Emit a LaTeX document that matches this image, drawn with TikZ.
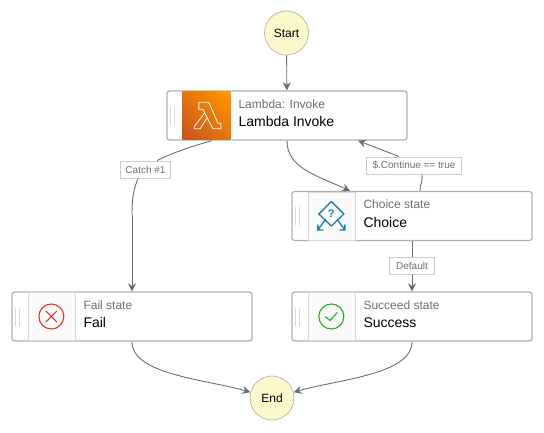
\documentclass[tikz,border=0pt]{standalone}
\usepackage{fontspec}
\setmainfont{Liberation Sans}
\usetikzlibrary{positioning,arrows.meta,shadings}
\definecolor{flowgrey}{HTML}{687078}
\definecolor{boxgrey}{HTML}{AAB3B8}
\definecolor{panelgrey}{HTML}{D5DBDB}
\definecolor{paneltint}{HTML}{FAFAFA}
\definecolor{labelgrey}{HTML}{C6D0D0}
\definecolor{titlegrey}{HTML}{687078}
\definecolor{startfill}{HTML}{FDF8CB}
\definecolor{startline}{HTML}{BDBDA8}
\definecolor{awsorange}{HTML}{FF9900}
\definecolor{awsrust}{HTML}{C8511B}
\definecolor{awsmid}{HTML}{E47511}
\definecolor{choiceblue}{HTML}{147EBA}
\definecolor{failred}{HTML}{DD3522}
\definecolor{okgreen}{HTML}{1FAE1F}
\tikzset{
flow/.style={draw=flowgrey,line width=0.9pt,-{Stealth[length=8pt,width=8pt]}},
flowend/.style={draw=flowgrey,line width=0.9pt},
terminal/.style={circle,draw=startline,fill=startfill,line width=0.8pt,
  minimum size=44pt,inner sep=0pt,font=\fontsize{12}{14}\selectfont},
statebox/.style={rectangle,draw=boxgrey,fill=white,line width=1.3pt,rounded corners=2.5pt,
  minimum width=240pt,minimum height=49pt,inner sep=0pt},
panel/.style={rectangle,draw=panelgrey,fill=paneltint,line width=0.7pt,
  minimum width=47pt,minimum height=48pt,inner sep=0pt},
titletext/.style={anchor=base west,inner sep=0pt,text=titlegrey,font=\fontsize{12}{14}\selectfont},
maintext/.style={anchor=base west,inner sep=0pt,text=black,font=\fontsize{14}{16}\selectfont},
edgelabel/.style={rectangle,draw=labelgrey,fill=white,line width=1pt,inner sep=0pt,
  minimum height=17pt,text=titlegrey,font=\fontsize{10}{12}\selectfont},
grip/.style={draw=panelgrey,line width=1.2pt}
}
\begin{document}
\begin{tikzpicture}[x=1pt,y=1pt]
\path[use as bounding box] (0,0) rectangle (544,-432);

\node[terminal] (start) at (286.5,-33) {Start};
\node[terminal] (end) at (272,-398) {End};

% states
\node[statebox] (lambda) at (287,-115.5) {};
\node[statebox] (choice) at (412,-216) {};
\node[statebox] (fail) at (132,-316.5) {};
\node[statebox] (success) at (412,-316.5) {};

% lambda
\begin{scope}
\coordinate (lambdapanel) at ([xshift=40pt]lambda.west);
\shade[lower left=awsrust,upper right=awsorange,upper left=awsmid,lower right=awsmid]
  ([shift={(-24pt,-24pt)}]lambdapanel) rectangle ([shift={(24pt,24pt)}]lambdapanel);
\draw[white,line width=0.8pt,line join=round,shift={(lambdapanel)}]
  (-7.5,13.2) -- (2.5,13.2) -- (11.5,-7.8) -- (14.5,-7.8) -- (14.5,-13.2) -- (6.5,-13.2)
  -- (-3.5,6.2) -- (-7.5,6.2) -- cycle
  (-1.8,2.5) -- (-12.2,-11.2) -- (-12.2,-13.2) -- (-6.2,-13.2) -- (0.8,-2.2);
\draw[grip] ([shift={(4.5pt,-9pt)}]lambda.west) -- ++(0,18pt);
\draw[grip] ([shift={(8pt,-9pt)}]lambda.west) -- ++(0,18pt);
\node[titletext] (lambdatitle) at ([shift={(72pt,7.5pt)}]lambda.west) {Lambda: Invoke};
\node[maintext] (lambdaname) at ([shift={(72pt,-11pt)}]lambda.west) {Lambda Invoke};
\end{scope}

% choice
\begin{scope}
\node[panel] (choicepanel) at ([xshift=40pt]choice.west) {};
\draw[choiceblue,line width=1.3pt,line join=round,shift={(choicepanel.center)}]
  (0,14.5) -- (12.5,2) -- (0,-10) -- (-12.5,2) -- cycle;
\draw[choiceblue,line width=1.3pt,shift={(choicepanel.center)}]
  (-6,-3.5) -- (-13.5,-14) (-13.5,-8.5) -- (-13.5,-14) -- (-8,-14)
  (6,-3.5) -- (13.5,-14) (13.5,-8.5) -- (13.5,-14) -- (8,-14);
\node[text=choiceblue,inner sep=0pt,font=\bfseries\fontsize{11}{12}\selectfont] (choicemark)
  at ([yshift=2.5pt]choicepanel.center) {?};
\draw[grip] ([shift={(4.5pt,-9pt)}]choice.west) -- ++(0,18pt);
\draw[grip] ([shift={(8pt,-9pt)}]choice.west) -- ++(0,18pt);
\node[titletext] (choicetitle) at ([shift={(72pt,7.5pt)}]choice.west) {Choice state};
\node[maintext] (choicename) at ([shift={(72pt,-11pt)}]choice.west) {Choice};
\end{scope}

% fail
\begin{scope}
\node[panel] (failpanel) at ([xshift=40pt]fail.west) {};
\node[circle,draw=failred,line width=1.1pt,minimum size=25pt,inner sep=0pt] (failmark)
  at (failpanel.center) {};
\draw[failred,line width=1.1pt] ([shift={(-5.5pt,-5.5pt)}]failmark.center) -- ([shift={(5.5pt,5.5pt)}]failmark.center);
\draw[failred,line width=1.1pt] ([shift={(-5.5pt,5.5pt)}]failmark.center) -- ([shift={(5.5pt,-5.5pt)}]failmark.center);
\draw[grip] ([shift={(4.5pt,-9pt)}]fail.west) -- ++(0,18pt);
\draw[grip] ([shift={(8pt,-9pt)}]fail.west) -- ++(0,18pt);
\node[titletext] (failtitle) at ([shift={(72pt,7.5pt)}]fail.west) {Fail state};
\node[maintext] (failname) at ([shift={(72pt,-11pt)}]fail.west) {Fail};
\end{scope}

% success
\begin{scope}
\node[panel] (successpanel) at ([xshift=40pt]success.west) {};
\node[circle,draw=okgreen,line width=1.1pt,minimum size=25pt,inner sep=0pt] (successmark)
  at (successpanel.center) {};
\draw[okgreen,line width=1.1pt] ([shift={(-6pt,0pt)}]successmark.center) -- ([shift={(-1.5pt,-4pt)}]successmark.center) -- ([shift={(6pt,4pt)}]successmark.center);
\draw[grip] ([shift={(4.5pt,-9pt)}]success.west) -- ++(0,18pt);
\draw[grip] ([shift={(8pt,-9pt)}]success.west) -- ++(0,18pt);
\node[titletext] (successtitle) at ([shift={(72pt,7.5pt)}]success.west) {Succeed state};
\node[maintext] (successname) at ([shift={(72pt,-11pt)}]success.west) {Success};
\end{scope}

% edge labels
\node[edgelabel,minimum width=50pt] (catch) at (145.5,-169.5) {Catch \#1};
\node[edgelabel,minimum width=95pt] (continue) at (414,-165.5) {\$.Continue == true};
\node[edgelabel,minimum width=45pt] (default) at (412,-266) {Default};

% connectors
\draw[flow] (start) -- (lambda);
\draw[flowend] ([xshift=-75pt]lambda.south) .. controls +(-22,-6) and +(14,7) .. ([xshift=11.5pt]catch.north);
\coordinate (catchdown) at (132,-215);
\draw[flowend] ([xshift=-7.5pt]catch.south) .. controls +(-4,-10) and +(0,18) .. (catchdown);
\draw[flow] (catchdown) -- (fail.north);
\draw[flow] (lambda.south) .. controls +(0,-27) and +(-35,16) .. ([xshift=-62pt]choice.north);
\draw[flowend] ([xshift=8pt]choice.north) .. controls +(0,6) and +(1,-6) .. ([xshift=8pt]continue.south);
\draw[flow] ([xshift=-15pt]continue.north) -- ([xshift=71pt]lambda.south);
\draw[flowend] (choice.south) -- (default.north);
\draw[flow] (default.south) -- (success.north);
\draw[flow] (fail.south) .. controls +(0,-33) and +(-45,13) .. (end.165);
\draw[flow] (success.south) .. controls +(0,-33) and +(45,13) .. (end.15);
\end{tikzpicture}
\end{document}
